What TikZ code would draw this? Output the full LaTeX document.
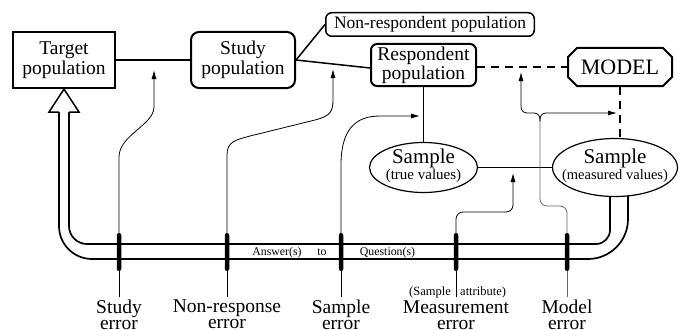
\documentclass[tikz,border=0pt]{standalone}
\usepackage{fontspec}
\setmainfont{Liberation Serif}
\usetikzlibrary{arrows.meta,shapes.geometric,shapes.misc,calc}
\pgfdeclarelayer{bg}
\pgfsetlayers{bg,main}
\begin{document}
\begin{tikzpicture}[x=1pt,y=-1pt,
  box/.style={draw, line width=2pt, align=center, inner sep=0pt, font=\fontsize{19.5}{20}\selectfont},
  conn/.style={line width=1.5pt},
  dashline/.style={line width=1.5pt, dash pattern=on 8pt off 6pt},
  thinline/.style={line width=0.8pt},
  thinarr/.style={line width=0.8pt, -{Latex[length=9pt,width=5pt]}},
  pipe/.style={line width=1.7pt},
  errbar/.style={fill=black, minimum width=4.5pt, minimum height=38pt, inner sep=0pt, rounded corners=2.2pt},
  errlab/.style={anchor=north, align=center, inner sep=0pt, font=\fontsize{19.5}{16}\selectfont},
  sampleshape/.style={draw, ellipse, line width=1.2pt, fill=white, inner sep=0pt},
  sampletext/.style={align=center, inner sep=0pt},
  smalltext/.style={inner sep=0pt, font=\fontsize{11.8}{13}\selectfont},
  attrtext/.style={inner sep=0pt, font=\fontsize{12.5}{14}\selectfont}
]
\useasboundingbox (0,0) rectangle (679,329);
\clip (0,0) rectangle (679,329);

% boxes
\node[box, line width=2.2pt, minimum width=102pt, minimum height=56pt] (target) at (64,60) {Target\\population};
\node[box, rounded corners=8pt, minimum width=104pt, minimum height=56pt] (study) at (243,60) {Study\\population};
\node[box, line width=1.5pt, rounded corners=6pt, minimum width=208.5pt, minimum height=23.5pt, font=\fontsize{17.5}{20}\selectfont] (nonresp) at (430,24.5) {Non-respondent population};
\node[box, rounded corners=6pt, minimum width=105pt, minimum height=42pt, font=\fontsize{19.5}{16.5}\selectfont] (resp) at (423.5,65) {Respondent\\population};
\node[box, chamfered rectangle, chamfered rectangle xsep=4.5pt, chamfered rectangle ysep=4.5pt, minimum width=104pt, minimum height=38pt, font=\fontsize{22}{24}\selectfont] (model) at (620,67) {MODEL};

% sample ellipses
\node[sampleshape, minimum width=108pt, minimum height=50pt] (true) at (423.5,167.5) {};
\node[sampletext] (truetext) at (423.5,165.5) {\fontsize{21}{14.5}\selectfont Sample\\\fontsize{15}{14.5}\selectfont (true values)};
\node[sampleshape, minimum width=125pt, minimum height=58pt] (meas) at (615,167.5) {};
\node[sampletext] (meastext) at (615,166) {\fontsize{21}{14.5}\selectfont Sample\\\fontsize{14.5}{14.5}\selectfont (measured values)};

% pipe (behind)
\begin{pgfonlayer}{bg}
\draw[pipe, rounded corners=18pt] (69,112) -- (69,244) -- (400,244);
\draw[pipe, rounded corners=14pt] (399,244) -- (610,244) -- (610,185);
\draw[pipe, rounded corners=33pt] (59,112) -- (59,259) -- (400,259);
\draw[pipe, rounded corners=40pt] (399,259) -- (628,259) -- (628,185);
\end{pgfonlayer}
% hollow arrow head
\draw[line width=1.5pt, line join=miter, fill=white] (59,112) -- (49,112) -- (target.south) -- (79,112) -- (69,112);

% connectors between boxes
\draw[conn] (target) -- (study);
\draw[conn] (study.east) -- (nonresp.west);
\draw[conn] (study.east) -- ([yshift=-3pt]resp.west);
\draw[dashline] (model.west -| resp.east) -- (model.west);
\draw[dashline] (model.south) -- (model.south |- meas.north);
\draw[conn] (resp.south) -- (true.north);
\draw[conn] (true.east) -- (meas.west);

% error bars
\node[errbar] (b1) at (119,252) {};
\node[errbar] (b2) at (227,252) {};
\node[errbar] (b3) at (341,252) {};
\node[errbar] (b4) at (456,252) {};
\node[errbar] (b5) at (567,252) {};

% text inside pipe
\node[smalltext, anchor=base] (ans) at (277,255) {Answer(s)};
\node[smalltext, anchor=base] (to) at (322,255) {to};
\node[smalltext, anchor=base] (quest) at (387.5,255.5) {Question(s)};

% labels
\node[errlab] (l1) at (119,300) {Study\\error};
\node[errlab] (l2) at (227,300) {Non-response\\error};
\node[errlab] (l3) at (341,300) {Sample\\error};
\node[errlab] (l4) at (456,301) {Measurement\\error};
\node[errlab] (l5) at (567,300) {Model\\error};
\node[attrtext, anchor=base east] (sa) at (451,295) {(Sample};
\node[attrtext, anchor=base west] (attr) at (460,295) {attribute)};

\draw[thinline] (b1.south) -- ([yshift=3pt]l1.north);
\draw[thinline] (b2.south) -- ([yshift=3pt]l2.north);
\draw[thinline] (b3.south) -- ([yshift=3pt]l3.north);
\draw[thinline] (b4.south) -- ([yshift=4pt]l4.north);
\draw[thinline, black!60] (b5.south) -- ([yshift=3pt]l5.north);

% arrow targets
\coordinate (t1) at (154,70);
\coordinate (t2) at (333,69);
\coordinate (t3) at (420,116);
\coordinate (t4) at (513,173);
\coordinate (t5) at (521,72);
\coordinate (t6) at (617,113);
\coordinate (fork) at (540,121);

\draw[thinarr] (b1.north) -- (119,157) .. controls (119,135) and (154,125) .. (154,107) -- (t1);
\draw[thinarr] (b2.north) -- (227,155) .. controls (227,142) and (235,140) .. (250,136) -- (315,120) .. controls (330,116) and (333,112) .. (333,100) -- (t2);
\draw[thinarr] (b3.north) -- (341,165) .. controls (341,130) and (355,116) .. (380,116) -- (t3);
\draw[thinarr, rounded corners=7pt] (b4.north) -- (456,212) -- (513,212) -- (t4);
\draw[thinline, black!60, rounded corners=7pt] (b5.north) -- (567,206) -- (540,206) -- (fork);
\draw[thinarr, rounded corners=6pt] (fork) -- (540,113) -- (521,113) -- (t5);
\draw[thinarr, rounded corners=6pt] (fork) -- (540,113) -- (t6);
\end{tikzpicture}
\end{document}
